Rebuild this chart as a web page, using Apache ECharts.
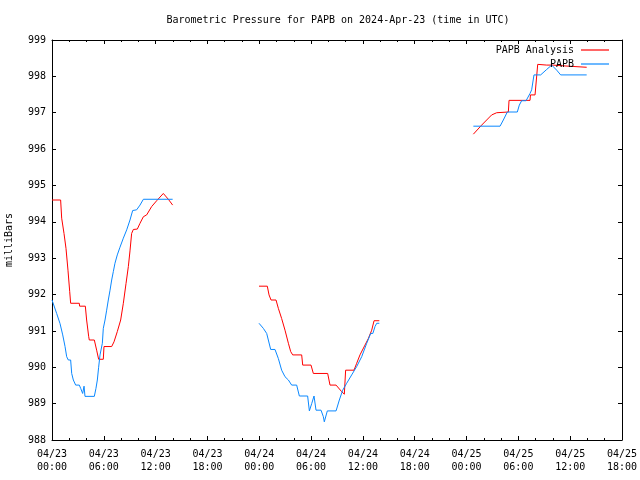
<!DOCTYPE html>
<html>
<head>
<meta charset="utf-8">
<script src="https://cdn.jsdelivr.net/npm/echarts@6/dist/echarts.min.js"></script>
<style>html,body{margin:0;padding:0;background:#fff}#c{width:640px;height:480px}</style>
</head>
<body>
<div id="c"></div>
<script>
// Hours since 2024-04-23 00:00 UTC; null marks a gap in the record
const redHours = [0.0,1.0,1.12,1.39,1.62,1.85,2.05,2.16,3.16,3.2,3.86,4.01,4.25,4.32,4.9,5.17,5.4,5.94,6.02,6.91,7.18,7.56,7.95,8.26,8.57,8.84,9.03,9.22,9.42,9.88,10.19,10.58,10.96,11.54,12.12,12.89,13.47,13.97,
  18.0,
  23.97,24.93,25.13,25.36,25.94,26.21,26.59,26.98,27.37,27.64,27.87,28.91,29.03,29.99,30.26,31.92,32.19,32.89,33.54,33.85,34.0,34.97,35.28,35.66,36.24,36.63,37.02,37.29,37.9,
  42.0,
  48.79,49.75,50.91,51.49,52.84,52.92,55.35,55.4,55.93,56.24,57.28,58.0,59.8,61.91];
const redValues = [994.6,994.6,994.1,993.68,993.27,992.67,992.08,991.76,991.76,991.68,991.68,991.3,990.84,990.75,990.75,990.47,990.22,990.22,990.57,990.57,990.7,990.98,991.3,991.76,992.3,992.77,993.2,993.68,993.79,993.8,993.96,994.14,994.19,994.42,994.58,994.78,994.62,994.46,
  null,
  992.23,992.23,991.99,991.85,991.85,991.62,991.34,991.02,990.66,990.43,990.34,990.34,990.06,990.06,989.83,989.83,989.51,989.51,989.33,989.26,989.92,989.92,990.11,990.34,990.61,990.79,991.02,991.28,991.28,
  null,
  996.41,996.66,996.94,997.0,997.02,997.34,997.34,997.49,997.49,998.33,998.31,998.31,998.28,998.25];

const blueHours = [0.0,0.54,0.93,1.24,1.51,1.7,1.89,2.16,2.28,2.47,2.74,3.16,3.32,3.55,3.63,3.71,3.82,4.9,5.09,5.25,5.4,5.56,5.71,5.83,5.94,6.14,6.33,6.52,6.72,6.91,7.1,7.29,7.56,7.87,8.26,8.65,9.03,9.34,9.8,10.19,10.58,13.97,
  18.0,
  23.97,24.47,24.86,25.05,25.32,25.82,26.21,26.59,26.98,27.37,27.75,28.33,28.64,29.6,29.8,30.07,30.34,30.57,31.15,31.42,31.53,31.88,32.89,33.27,33.66,34.12,34.7,35.28,35.86,36.44,36.9,37.15,37.4,37.6,37.9,
  42.0,
  48.79,51.88,52.26,52.72,53.88,54.11,54.38,54.89,55.35,55.54,55.81,56.58,57.28,57.86,58.44,58.9,61.91];
const blueValues = [991.85,991.48,991.2,990.89,990.57,990.29,990.2,990.2,989.83,989.65,989.51,989.51,989.42,989.28,989.24,989.48,989.2,989.2,989.42,989.65,990.0,990.34,990.36,990.66,991.07,991.3,991.57,991.85,992.12,992.4,992.63,992.86,993.09,993.3,993.55,993.78,994.05,994.31,994.33,994.46,994.62,994.62,
  null,
  991.21,991.07,990.93,990.75,990.49,990.49,990.24,989.92,989.74,989.65,989.51,989.51,989.21,989.21,988.8,989.0,989.21,988.82,988.82,988.64,988.5,988.8,988.8,989.1,989.37,989.56,989.79,990.02,990.29,990.66,990.93,990.93,991.12,991.21,991.21,
  null,
  996.63,996.63,996.8,997.02,997.02,997.21,997.33,997.33,997.53,997.63,998.04,998.04,998.19,998.31,998.17,998.04,998.04];

const tickDays = ['04/23','04/24','04/25'];
const titleText = 'Barometric Pressure for PAPB on 2024-Apr-23 (time in UTC)';
const seriesNames = ['PAPB Analysis','PAPB'];
const yTitle = 'milliBars';

const FONT = 'DejaVu Sans Mono';
const RED = '#ff0000';
const BLUE = '#0a88ff';
const pairs = (xs, ys) => xs.map((x, i) => [x, ys[i]]);
const fmtX = v => {
  const d = Math.floor(v / 24);
  const h = Math.round(v - d * 24);
  return tickDays[d] + '\n' + String(h).padStart(2, '0') + ':00';
};

const axisLine = {show: true, onZero: false, lineStyle: {color: '#000', width: 1}};
const xCommon = {
  type: 'value', min: 0, max: 66, interval: 6,
  axisLine: axisLine,
  axisTick: {show: true, inside: true, length: 4, lineStyle: {color: '#000'}},
  minorTick: {show: true, splitNumber: 3, length: 2, lineStyle: {color: '#000'}},
  splitLine: {show: false}
};
const yCommon = {
  type: 'value', min: 988, max: 999, interval: 1,
  axisLine: axisLine,
  axisTick: {show: true, inside: true, length: 4, lineStyle: {color: '#000'}},
  splitLine: {show: false}
};
const legendCommon = {
  right: 26, align: 'right', icon: 'rect', itemWidth: 28, itemHeight: 1.2, itemGap: 0,
  textStyle: {fontFamily: FONT, fontSize: 10, color: '#000', padding: [0, 2, 0, 0]}
};

const chart = echarts.init(document.getElementById('c'), null, {renderer: 'canvas'});
chart.setOption({
  animation: false,
  backgroundColor: '#fff',
  title: {
    text: titleText, left: 333, top: 10, textAlign: 'center',
    textStyle: {fontFamily: FONT, fontSize: 10, fontWeight: 'normal', color: '#000'}
  },
  grid: {left: 52, right: 18, top: 40, bottom: 40, containLabel: false, outerBoundsMode: 'none'},
  legend: [
    Object.assign({data: [seriesNames[0]], top: 40}, legendCommon),
    Object.assign({data: [seriesNames[1]], top: 54}, legendCommon)
  ],
  xAxis: [
    Object.assign({}, xCommon, {position: 'bottom',
      axisLabel: {formatter: fmtX, fontFamily: FONT, fontSize: 10, color: '#000', margin: 8, lineHeight: 13, showMinLabel: true, showMaxLabel: true}}),
    Object.assign({}, xCommon, {position: 'top', axisLabel: {show: false}})
  ],
  yAxis: [
    Object.assign({}, yCommon, {position: 'left', name: yTitle, nameLocation: 'middle', nameRotate: 90, nameGap: 38,
      nameTextStyle: {fontFamily: FONT, fontSize: 10, color: '#000'},
      axisLabel: {fontFamily: FONT, fontSize: 10, color: '#000', margin: 6}}),
    Object.assign({}, yCommon, {position: 'right', axisLabel: {show: false}})
  ],
  series: [
    {name: seriesNames[0], type: 'line', data: pairs(redHours, redValues), showSymbol: false, symbol: 'none',
     connectNulls: false, color: RED, lineStyle: {width: 1, color: RED}, itemStyle: {color: RED}},
    {name: seriesNames[1], type: 'line', data: pairs(blueHours, blueValues), showSymbol: false, symbol: 'none',
     connectNulls: false, color: BLUE, lineStyle: {width: 1, color: BLUE}, itemStyle: {color: BLUE}}
  ]
});
</script>
</body>
</html>
